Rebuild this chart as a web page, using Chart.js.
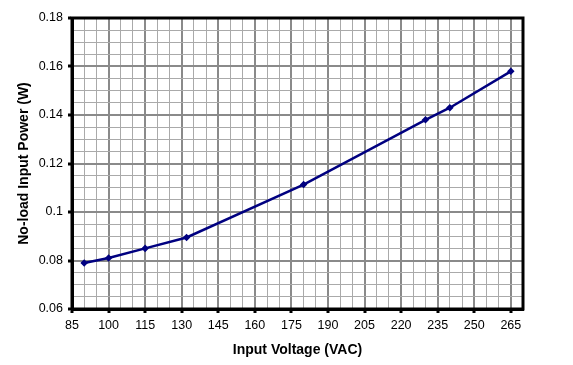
<!DOCTYPE html>
<html>
<head>
<meta charset="utf-8">
<script src="https://cdn.jsdelivr.net/npm/chart.js@4/dist/chart.umd.min.js"></script>
<style>
  html, body { margin: 0; padding: 0; background: #fff; }
  #wrap { width: 573px; height: 365px; }
</style>
</head>
<body>
<div id="wrap"><canvas id="c" width="573" height="365"></canvas></div>
<script>
// Data
const voltages = [90, 100, 115, 132, 180, 230, 240, 265];
const power    = [0.079, 0.081, 0.085, 0.0895, 0.1113, 0.138, 0.143, 0.158];

// Axis tick labels
const xTickValues = [85, 100, 115, 130, 145, 160, 175, 190, 205, 220, 235, 250, 265];
const yTickValues = [0.06, 0.08, 0.1, 0.12, 0.14, 0.16, 0.18];
const yTickLabels = ['0.06', '0.08', '0.1', '0.12', '0.14', '0.16', '0.18'];

const X_MIN = 85, X_MAX = 270, X_MINOR = 5;
const Y_MIN = 0.06, Y_MAX = 0.18, Y_MINOR = 0.005;

const MAJOR = '#8a8a8a', MINOR = '#aaaaaa';

function isMajorX(v) { return xTickValues.some(t => Math.abs(t - v) < 1e-6); }
function yMajorIndex(v) { return yTickValues.findIndex(t => Math.abs(t - v) < 1e-9); }

const frame = {
  id: 'frame',
  afterDatasetsDraw(chart) {
    const a = chart.chartArea, ctx = chart.ctx;
    ctx.save();
    ctx.strokeStyle = '#000';
    ctx.lineWidth = 3;
    ctx.strokeRect(a.left, a.top, a.right - a.left, a.bottom - a.top);
    ctx.restore();
  }
};

new Chart(document.getElementById('c'), {
  type: 'line',
  data: {
    datasets: [{
      data: voltages.map((v, i) => ({ x: v, y: power[i] })),
      borderColor: '#000080',
      backgroundColor: '#000080',
      borderWidth: 2.5,
      pointStyle: 'rectRot',
      pointRadius: 2,
      pointHoverRadius: 2,
      tension: 0,
      clip: false
    }]
  },
  plugins: [frame],
  options: {
    responsive: false,
    animation: false,
    devicePixelRatio: 1,
    layout: { padding: { left: 0, right: 50, top: 18, bottom: 0 } },
    plugins: { legend: { display: false }, tooltip: { enabled: false } },
    font: { family: 'Liberation Sans, Arial, sans-serif' },
    scales: {
      x: {
        type: 'linear',
        min: X_MIN, max: X_MAX,
        afterBuildTicks(scale) {
          const t = [];
          for (let v = X_MIN; v <= X_MAX + 1e-9; v += X_MINOR) t.push({ value: v });
          scale.ticks = t;
        },
        afterFit(scale) { scale.height = 56; },
        border: { display: true, color: '#000', width: 3 },
        grid: {
          drawTicks: true,
          tickLength: 4,
          color: ctx => isMajorX(ctx.tick.value) ? MAJOR : MINOR,
          lineWidth: ctx => isMajorX(ctx.tick.value) ? 2 : 1,
          tickColor: ctx => isMajorX(ctx.tick.value) ? '#000' : 'rgba(0,0,0,0)',
          tickWidth: 3
        },
        ticks: {
          autoSkip: false,
          maxRotation: 0,
          padding: 5,
          color: '#000',
          font: { family: 'Liberation Sans, Arial, sans-serif', size: 12.5 },
          callback: v => isMajorX(v) ? String(v) : ''
        },
        title: {
          display: true,
          text: 'Input Voltage (VAC)',
          color: '#000',
          font: { family: 'Liberation Sans, Arial, sans-serif', size: 14, weight: 'bold' },
          padding: { top: 0, bottom: 6.5 }
        }
      },
      y: {
        type: 'linear',
        min: Y_MIN, max: Y_MAX,
        afterBuildTicks(scale) {
          const t = [];
          const n = Math.round((Y_MAX - Y_MIN) / Y_MINOR);
          for (let i = 0; i <= n; i++) t.push({ value: +(Y_MIN + i * Y_MINOR).toFixed(4) });
          scale.ticks = t;
        },
        afterFit(scale) { scale.width = 72; },
        border: { display: true, color: '#000', width: 3 },
        grid: {
          drawTicks: true,
          tickLength: 4,
          color: ctx => yMajorIndex(ctx.tick.value) >= 0 ? MAJOR : MINOR,
          lineWidth: ctx => yMajorIndex(ctx.tick.value) >= 0 ? 2 : 1,
          tickColor: ctx => yMajorIndex(ctx.tick.value) >= 0 ? '#000' : 'rgba(0,0,0,0)',
          tickWidth: 3
        },
        ticks: {
          autoSkip: false,
          padding: 5,
          color: '#000',
          font: { family: 'Liberation Sans, Arial, sans-serif', size: 12.5 },
          callback: v => { const i = yMajorIndex(v); return i >= 0 ? yTickLabels[i] : ''; }
        },
        title: {
          display: true,
          text: 'No-load Input Power (W)',
          color: '#000',
          font: { family: 'Liberation Sans, Arial, sans-serif', size: 14, weight: 'bold' },
          padding: { top: 15.5, bottom: 0 }
        }
      }
    }
  }
});
</script>
</body>
</html>
